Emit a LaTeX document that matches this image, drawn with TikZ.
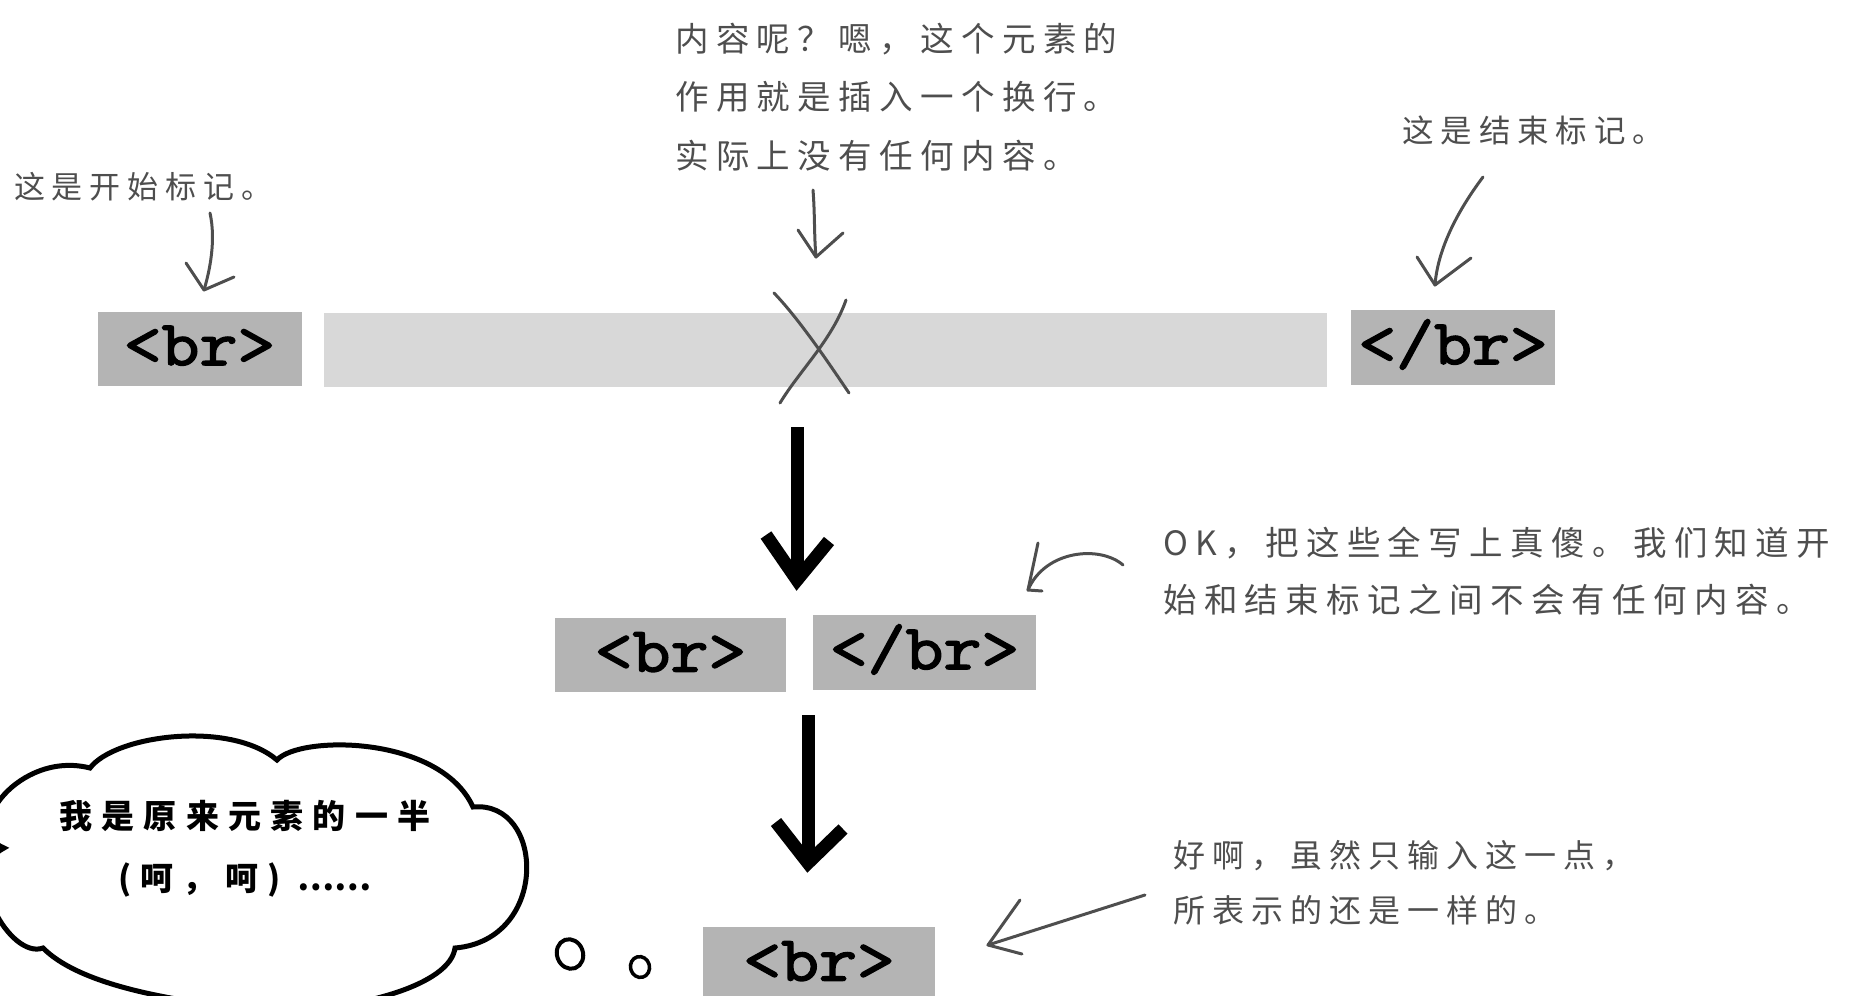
\documentclass[tikz,border=0pt]{standalone}
\usepackage{fontspec}
\newfontfamily\handfont[LetterSpace=22]{Noto Sans CJK SC}
\newfontfamily\cloudfont[LetterSpace=28]{Noto Sans CJK SC}
\newfontfamily\cloudplain{Noto Sans CJK SC}
\newfontfamily\tagfont[FakeBold=2.5,FakeStretch=1.15]{Latin Modern Mono}
\definecolor{tagcolor0001}{RGB}{180,180,180}
\definecolor{tagcolor0002}{RGB}{216,216,216}
\definecolor{tagcolor0003}{RGB}{78,78,78}

\begin{document}
\begin{tikzpicture}[yscale=-1
,tagbox/.style={fill=tagcolor0001,inner sep=0,font=\tagfont\fontsize{64}{64}\selectfont,text height=39pt,text depth=6pt}
,barbox/.style={fill=tagcolor0002,inner sep=0}
,handtxt/.style={color=tagcolor0003,inner sep=0,align=left}
,handline/.style={color=tagcolor0003,line width=3pt,line cap=round,line join=round}
,bigarrow/.style={color=black,line width=13pt}
,bubble/.style={color=black,line width=5pt,fill=white}
,cloudtxt/.style={color=black,inner sep=0,align=center}
]
\useasboundingbox (0pt,0pt) rectangle (1875pt,996pt);
\clip (0pt,0pt) rectangle (1875pt,996pt);
\node[tagbox,minimum width=204pt,minimum height=74pt] (open1) at (199.5pt,348.5pt) {<br>};
\node[barbox,minimum width=1003pt,minimum height=74pt] (body) at (825.5pt,350pt) {};
\node[tagbox,minimum width=204pt,minimum height=75pt] (close1) at (1453pt,347.5pt) {</br>};
\node[tagbox,minimum width=231pt,minimum height=74pt] (open2) at (670.5pt,655pt) {<br>};
\node[tagbox,minimum width=223pt,minimum height=75pt] (close2) at (924.5pt,652.5pt) {</br>};
\node[tagbox,minimum width=232pt,minimum height=74pt] (open3) at (819pt,964pt) {<br>};
\node[handtxt,anchor=west,font=\handfont\fontsize{31}{31}\selectfont] (startlbl) at (14pt,187pt) {这是开始标记。};
\node[handtxt,anchor=west,font=\handfont\fontsize{33.5}{58.5}\selectfont] (midlbl) at (675pt,97pt) {内容呢？嗯，这个元素的\\作用就是插入一个换行。\\实际上没有任何内容。};
\node[handtxt,anchor=west,font=\handfont\fontsize{31.5}{31.5}\selectfont] (endlbl) at (1402pt,130pt) {这是结束标记。};
\node[handtxt,anchor=west,font=\handfont\fontsize{33.5}{57}\selectfont] (oklbl) at (1163pt,571.5pt) {OK，把这些全写上真傻。我们知道开\\始和结束标记之间不会有任何内容。};
\node[handtxt,anchor=west,font=\handfont\fontsize{32}{55}\selectfont] (samelbl) at (1173pt,882.5pt) {好啊，虽然只输入这一点，\\所表示的还是一样的。};
\draw[handline] (774pt,293pt) .. controls (800pt,320pt) and (830pt,365pt) .. (849pt,393pt);
\draw[handline] (846pt,300pt) .. controls (832pt,340pt) and (800pt,370pt) .. (780pt,403pt);
\coordinate (startarr) at (210pt,213pt);
\coordinate (starttip) at (204pt,290pt);
\draw[handline] (startarr) .. controls (216pt,240pt) and (210pt,270pt) .. (starttip);
\draw[handline] (starttip) ++(-18pt,-27pt) -- (starttip) -- ++(30pt,-13pt);
\coordinate (midarr) at (813pt,190pt);
\coordinate (midtip) at (816pt,257pt);
\draw[handline] (midarr) .. controls (815pt,215pt) and (814pt,235pt) .. (midtip);
\draw[handline] (midtip) ++(-18pt,-27pt) -- (midtip) -- ++(27pt,-24pt);
\coordinate (endarr) at (1483pt,177pt);
\coordinate (endtip) at (1435pt,285pt);
\draw[handline] (endarr) .. controls (1462pt,205pt) and (1438pt,245pt) .. (endtip);
\draw[handline] (endtip) ++(-18pt,-28pt) -- (endtip) -- ++(36pt,-27pt);
\coordinate (okarr) at (1123pt,565pt);
\coordinate (oktip) at (1028pt,590pt);
\draw[handline] (okarr) .. controls (1100pt,545pt) and (1045pt,550pt) .. (oktip);
\draw[handline] (oktip) ++(10pt,-47pt) -- (oktip) -- ++(14pt,1pt);
\coordinate (samearr) at (1145pt,895pt);
\coordinate (sametip) at (988pt,945pt);
\draw[handline] (samearr) -- (sametip);
\draw[handline] (sametip) ++(32pt,-45pt) -- (sametip) -- ++(34pt,9pt);
\coordinate (down1) at (797pt,427pt);
\coordinate (down1tip) at (797pt,580pt);
\draw[bigarrow] (down1) -- (down1tip);
\draw[bigarrow] (down1tip) ++(-31pt,-45pt) -- (down1tip) -- ++(32pt,-39pt);
\coordinate (down2) at (808pt,715pt);
\coordinate (down2tip) at (808pt,863pt);
\draw[bigarrow] (down2) -- (down2tip);
\draw[bigarrow] (down2tip) ++(-32pt,-41pt) -- (down2tip) -- ++(35pt,-34pt);
\draw[bubble] (4pt,848pt) .. controls (-40pt,830pt) and (20pt,750pt) .. (90pt,768pt) .. controls (115pt,735pt) and (230pt,720pt) .. (277pt,760pt) .. controls (300pt,735pt) and (440pt,735pt) .. (473pt,807pt) .. controls (545pt,800pt) and (550pt,940pt) .. (455pt,948pt) .. controls (450pt,985pt) and (360pt,1010pt) .. (270pt,1012pt) .. controls (220pt,1005pt) and (90pt,995pt) .. (43pt,948pt) .. controls (10pt,960pt) and (-40pt,870pt) .. cycle;
\node[cloudtxt,font=\cloudfont\bfseries\fontsize{33}{62}\selectfont] (cloudlbl) at (245pt,849pt) {我是原来元素的一半\\(呵，呵) {\cloudplain\bfseries ……}};
\draw[bubble,line width=4pt,rotate around={-20:(570pt,954pt)}] (570pt,954pt) ellipse (13pt and 15pt);
\draw[bubble,line width=3.5pt,rotate around={-15:(640pt,967pt)}] (640pt,967pt) ellipse (9.5pt and 10.5pt);
\end{tikzpicture}
\end{document}
